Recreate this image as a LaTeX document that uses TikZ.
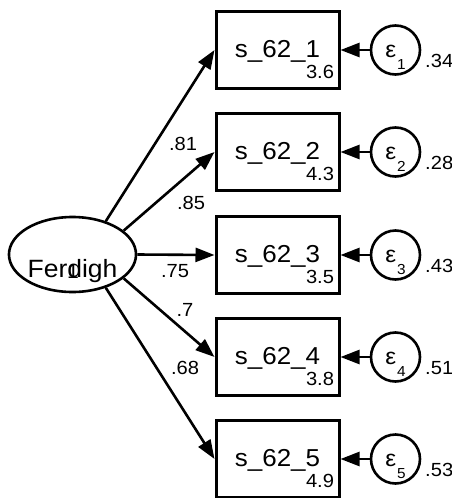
\documentclass[tikz,border=0pt]{standalone}
\usepackage{fontspec}
\setmainfont[FakeStretch=1.06]{Liberation Sans}
\usetikzlibrary{arrows.meta,shapes.geometric}

\begin{document}
\begin{tikzpicture}[x=1pt,y=-1pt,
    manifest/.style={draw,line width=3pt,minimum width=123pt,minimum height=77pt,inner sep=0pt,
      text height=15pt,text depth=0pt,font=\fontsize{24.5}{24.5}\selectfont},
    latent/.style={draw,ellipse,line width=2.6pt,minimum width=121pt,minimum height=75pt,inner sep=0pt,
      text height=45.6pt,text depth=0pt,font=\fontsize{25}{25}\selectfont},
    errnode/.style={draw,circle,line width=2.6pt,minimum size=49pt,inner sep=0pt,
      text height=14.4pt,text depth=0pt,font=\fontsize{23}{23}\selectfont},
    small/.style={inner sep=0pt,font=\fontsize{19}{19}\selectfont},
    path/.style={line width=2.6pt,-{Triangle[length=19pt,width=14pt]}}]
  \useasboundingbox (0,0) rectangle (452,498);
  % factor
  \node[latent] at (72.5,254.5) (F) {Ferdigh};
  \node[inner sep=0pt,font=\fontsize{20}{20}\selectfont] at (73,271.5) (one) {1};
  % indicators
  \node[manifest] at (277.5,50) (s1) {s\_62\_1};
  \node[manifest] at (277.5,152) (s2) {s\_62\_2};
  \node[manifest] at (277.5,255) (s3) {s\_62\_3};
  \node[manifest] at (277.5,357) (s4) {s\_62\_4};
  \node[manifest] at (277.5,459) (s5) {s\_62\_5};
  \node[small] at (320,72) (m1) {3.6};
  \node[small] at (320,174) (m2) {4.3};
  \node[small] at (320,277) (m3) {3.5};
  \node[small] at (320,379) (m4) {3.8};
  \node[small] at (320,481) (m5) {4.9};
  % errors
  \node[errnode] at (395.5,50) (e1) {ε\hspace{1pt}\raisebox{-12pt}{\fontsize{14.5}{14.5}\selectfont 1}};
  \node[errnode] at (395.5,152) (e2) {ε\hspace{1pt}\raisebox{-12pt}{\fontsize{14.5}{14.5}\selectfont 2}};
  \node[errnode] at (395.5,255) (e3) {ε\hspace{1pt}\raisebox{-12pt}{\fontsize{14.5}{14.5}\selectfont 3}};
  \node[errnode] at (395.5,357) (e4) {ε\hspace{1pt}\raisebox{-12pt}{\fontsize{14.5}{14.5}\selectfont 4}};
  \node[errnode] at (395.5,459) (e5) {ε\hspace{1pt}\raisebox{-12pt}{\fontsize{14.5}{14.5}\selectfont 5}};
  \node[small,anchor=west] at (425,61) (v1) {.34};
  \node[small,anchor=west] at (425,163) (v2) {.28};
  \node[small,anchor=west] at (425,266) (v3) {.43};
  \node[small,anchor=west] at (425,368) (v4) {.51};
  \node[small,anchor=west] at (425,470) (v5) {.53};
  % loadings
  \draw[path] (F.45) -- (s1.west);
  \draw[path] (F.25) -- (s2.west);
  \draw[path] (F.east) -- (s3.west);
  \draw[path] (F.-25) -- (s4.west);
  \draw[path] (F.-45) -- (s5.west);
  \node[small] at (183,144) (l1) {.81};
  \node[small] at (191,203) (l2) {.85};
  \node[small] at (175,271) (l3) {.75};
  \node[small] at (185,310) (l4) {.7};
  \node[small] at (185,368) (l5) {.68};
  \draw[path] (e1) -- (s1);
  \draw[path] (e2) -- (s2);
  \draw[path] (e3) -- (s3);
  \draw[path] (e4) -- (s4);
  \draw[path] (e5) -- (s5);
\end{tikzpicture}
\end{document}
